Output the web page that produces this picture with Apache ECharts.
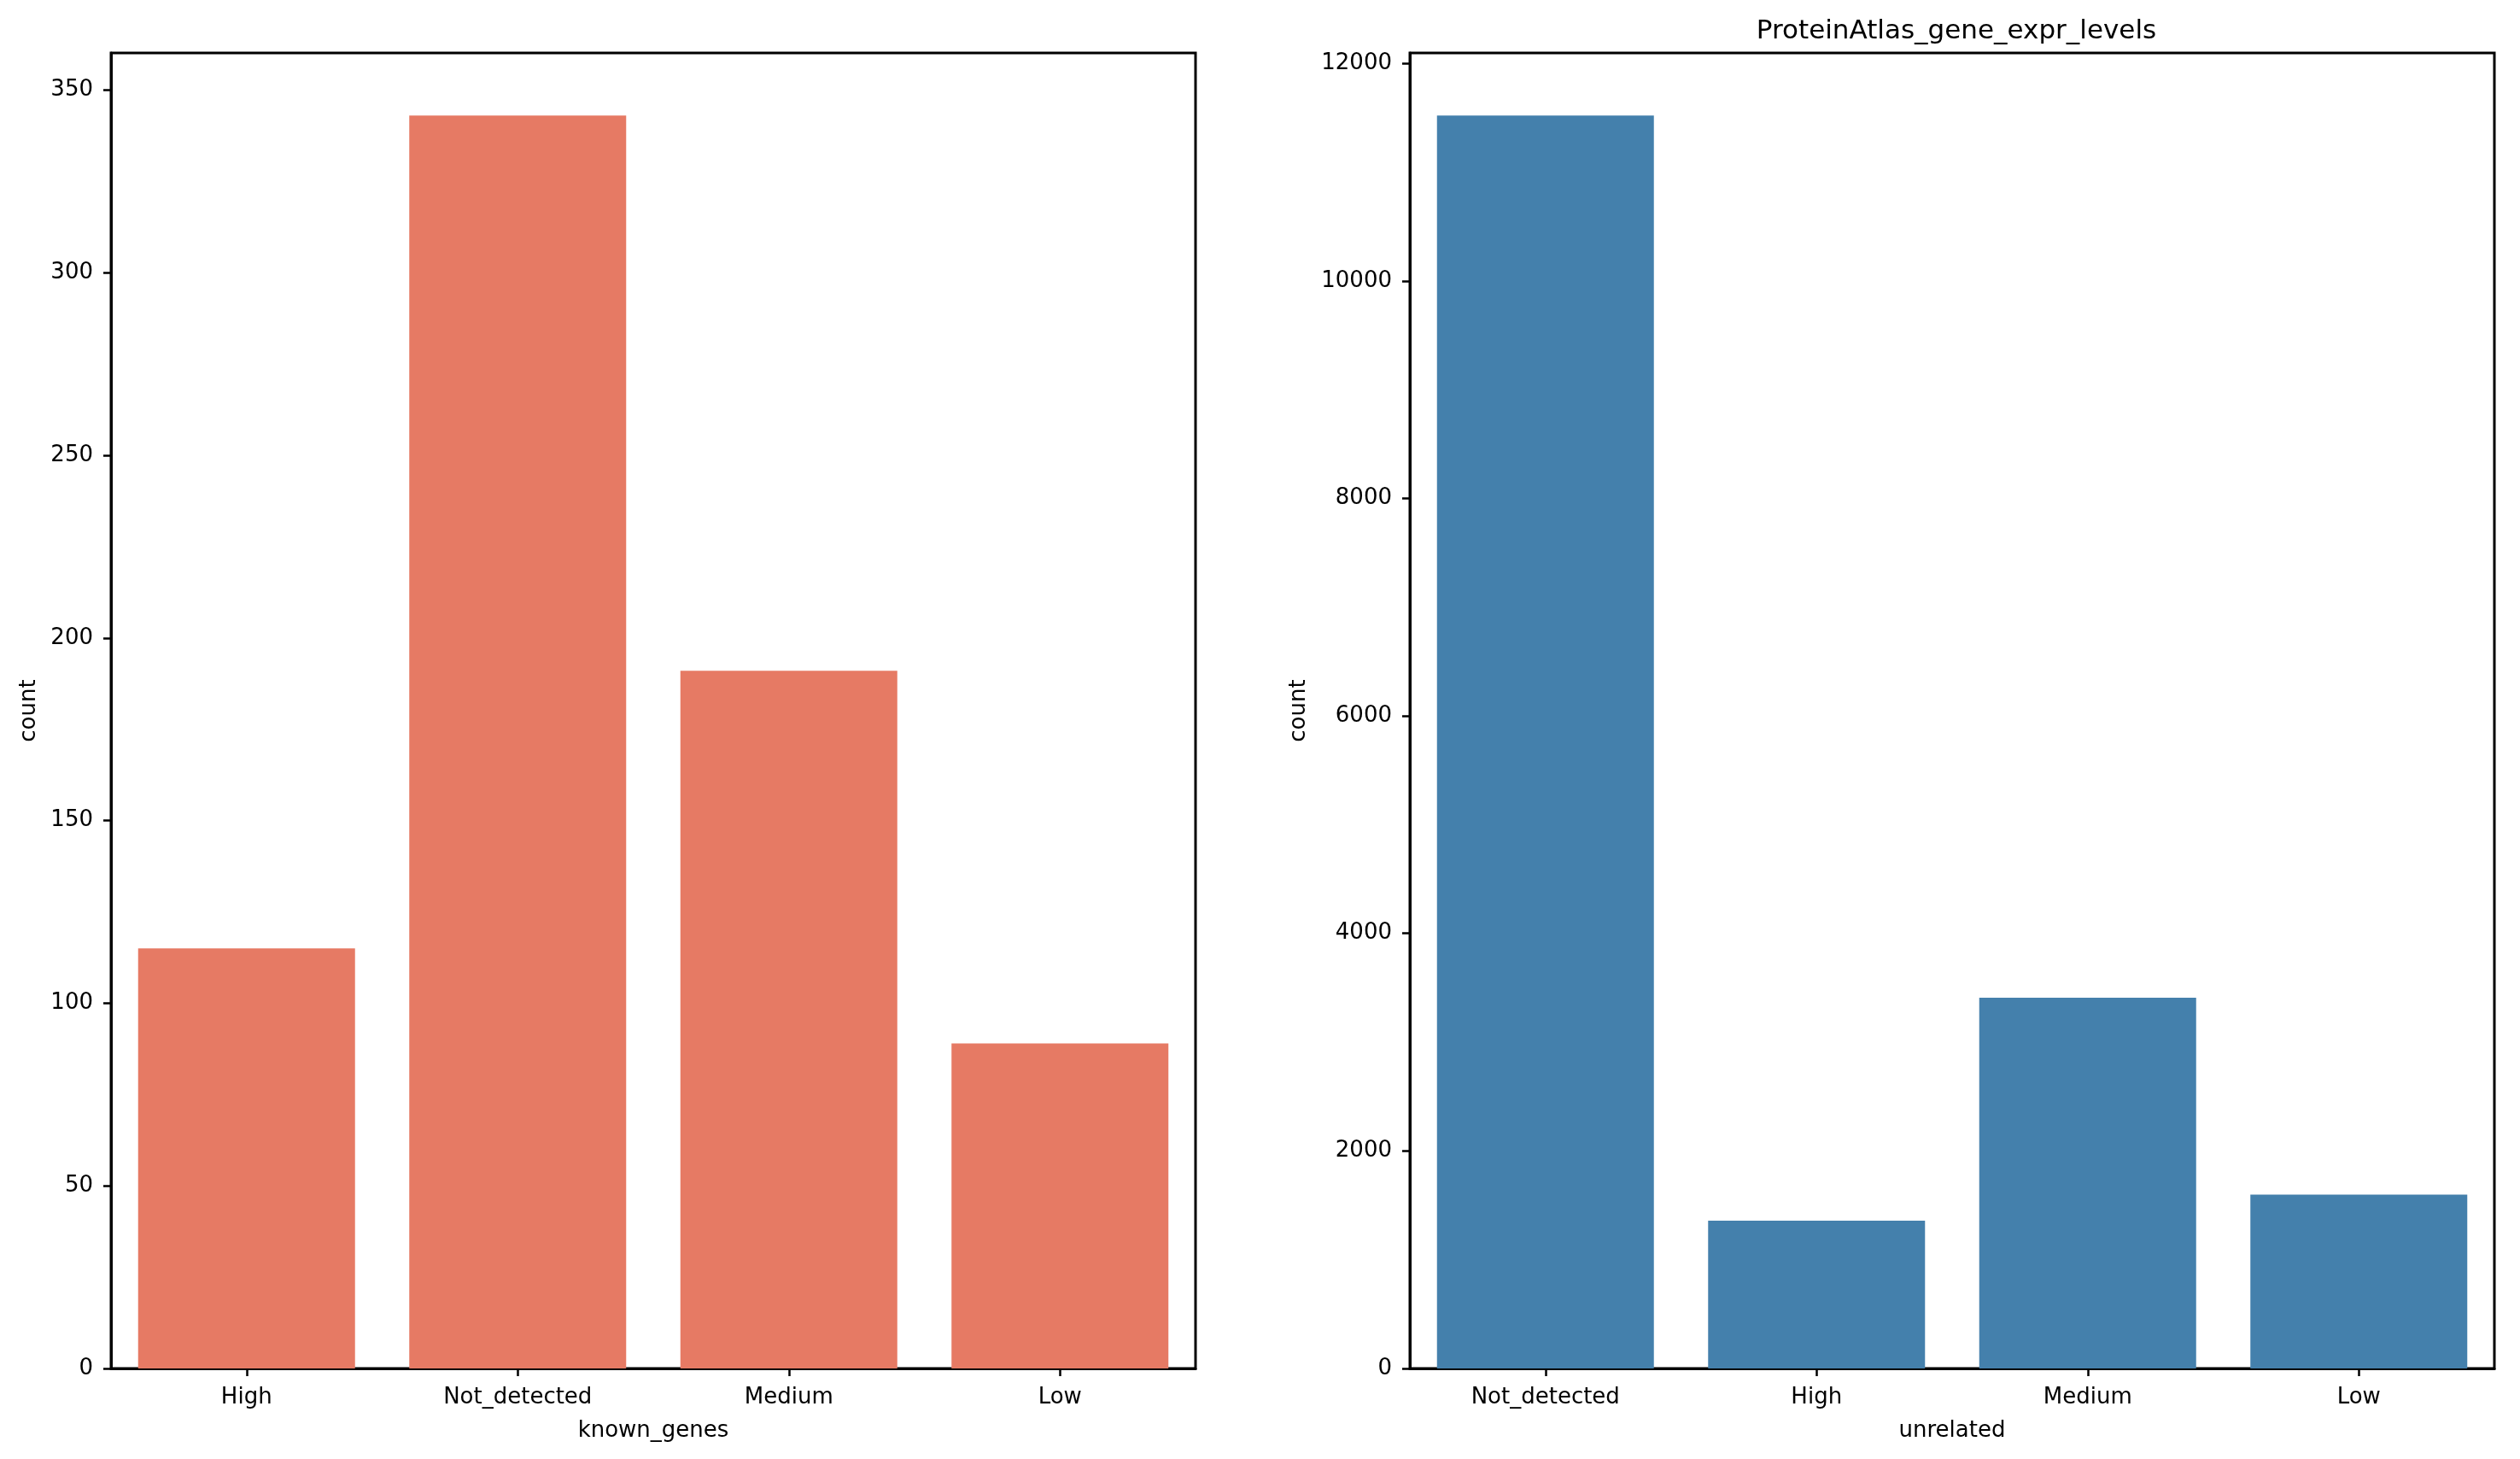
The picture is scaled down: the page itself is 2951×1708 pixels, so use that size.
<!DOCTYPE html>
<html>
<head>
<meta charset="utf-8">
<script src="https://cdn.jsdelivr.net/npm/echarts@6/dist/echarts.min.js"></script>
<style>
html,body{margin:0;padding:0;background:#fff;}
#c{width:2951px;height:1708px;}
</style>
</head>
<body>
<div id="c"></div>
<script>
const knownCategories = ["High", "Not_detected", "Medium", "Low"];
const knownCounts = [115, 343, 191, 89];
const knownTicks = [0, 50, 100, 150, 200, 250, 300, 350];
const unrelatedCategories = ["Not_detected", "High", "Medium", "Low"];
const unrelatedCounts = [11520, 1358, 3409, 1598];
const unrelatedTicks = [0, 2000, 4000, 6000, 8000, 10000, 12000];
const titleText = "ProteinAtlas_gene_expr_levels";

const FONT = "DejaVu Sans";
const chart = echarts.init(document.getElementById('c'), null, {renderer: 'canvas'});

function xAxisCfg(cats, name, gridIndex) {
  return {
    type: 'category', gridIndex: gridIndex, data: cats,
    name: name, nameLocation: 'middle', nameGap: 60,
    nameTextStyle: {fontFamily: FONT, fontSize: 26, color: '#000'},
    axisLine: {show: true, lineStyle: {color: '#000', width: 3}},
    axisTick: {show: true, alignWithLabel: true, length: 9, lineStyle: {color: '#000', width: 2.5}},
    axisLabel: {fontFamily: FONT, fontSize: 26, color: '#000', margin: 21},
    splitLine: {show: false}
  };
}
function yAxisCfg(ticks, gap, gridIndex) {
  return {
    type: 'value', gridIndex: gridIndex, min: 0, interval: ticks[1] - ticks[0],
    max: function (v) { return v.max * 1.05; },
    name: 'count', nameLocation: 'middle', nameGap: gap,
    nameTextStyle: {fontFamily: FONT, fontSize: 26, color: '#000'},
    axisLine: {show: true, lineStyle: {color: '#000', width: 3}},
    axisTick: {show: true, length: 9, customValues: ticks, lineStyle: {color: '#000', width: 2.5}},
    axisLabel: {fontFamily: FONT, fontSize: 26, color: '#000', margin: 21, customValues: ticks,
      formatter: function (v) { return String(v); }},
    splitLine: {show: false}
  };
}

chart.setOption({
  animation: false,
  backgroundColor: '#fff',
  title: {
    text: titleText, left: 2286, top: 16, textAlign: 'center',
    textStyle: {fontFamily: FONT, fontSize: 31, fontWeight: 'normal', color: '#000'}
  },
  grid: [
    {left: 130, right: 1551, top: 62, bottom: 106, show: true, borderColor: '#000', borderWidth: 3, backgroundColor: 'transparent'},
    {left: 1651, right: 30, top: 62, bottom: 106, show: true, borderColor: '#000', borderWidth: 3, backgroundColor: 'transparent'}
  ],
  xAxis: [xAxisCfg(knownCategories, 'known_genes', 0), xAxisCfg(unrelatedCategories, 'unrelated', 1)],
  yAxis: [yAxisCfg(knownTicks, 83, 0), yAxisCfg(unrelatedTicks, 117, 1)],
  series: [
    {type: 'bar', xAxisIndex: 0, yAxisIndex: 0, data: knownCounts, barWidth: '80%', itemStyle: {color: '#E67A64'}},
    {type: 'bar', xAxisIndex: 1, yAxisIndex: 1, data: unrelatedCounts, barWidth: '80%', itemStyle: {color: '#4480AC'}}
  ]
});
</script>
</body>
</html>
